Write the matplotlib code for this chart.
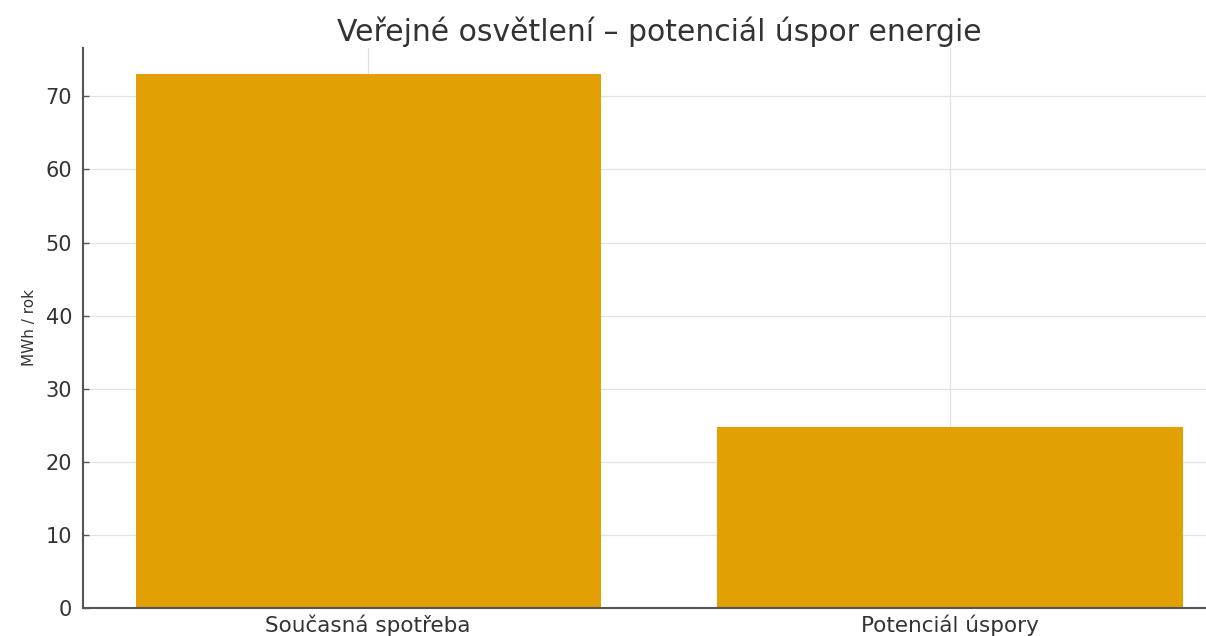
import matplotlib
matplotlib.use("Agg")
import matplotlib.pyplot as plt

# Data
categories = ["Současná spotřeba", "Potenciál úspory"]
values_mwh = [73.0, 24.8]
y_ticks = [0, 10, 20, 30, 40, 50, 60, 70]

bar_color = "#E3A003"
text_color = "#333333"
spine_color = "#555555"
grid_color = "#E2E2E2"

fig = plt.figure(figsize=(12.06, 6.36), dpi=100)
# axes runs off the right edge, as in the cropped reference
ax = fig.add_axes([0.069, 0.044, 0.955, 0.881])

ax.bar(categories, values_mwh, width=0.8, color=bar_color, zorder=2)

ax.set_yticks(y_ticks)
ax.grid(True, color=grid_color, linewidth=0.9, zorder=0)
ax.set_axisbelow(True)

for side in ["top", "right"]:
    ax.spines[side].set_visible(False)
for side in ["left", "bottom"]:
    ax.spines[side].set_color(spine_color)
    ax.spines[side].set_linewidth(1.5)

ax.tick_params(axis="both", direction="in", colors=spine_color,
               labelcolor=text_color, length=4, width=1)
ax.tick_params(axis="y", labelsize=15, pad=8)
ax.tick_params(axis="x", labelsize=15.5, pad=5)
ax.set_ylabel("MWh / rok", fontsize=11, color=text_color, labelpad=6)
ax.set_title("Veřejné osvětlení – potenciál úspor energie",
             fontsize=21.5, color=text_color, pad=5)

fig.savefig("out.png", dpi=100, facecolor="white")
